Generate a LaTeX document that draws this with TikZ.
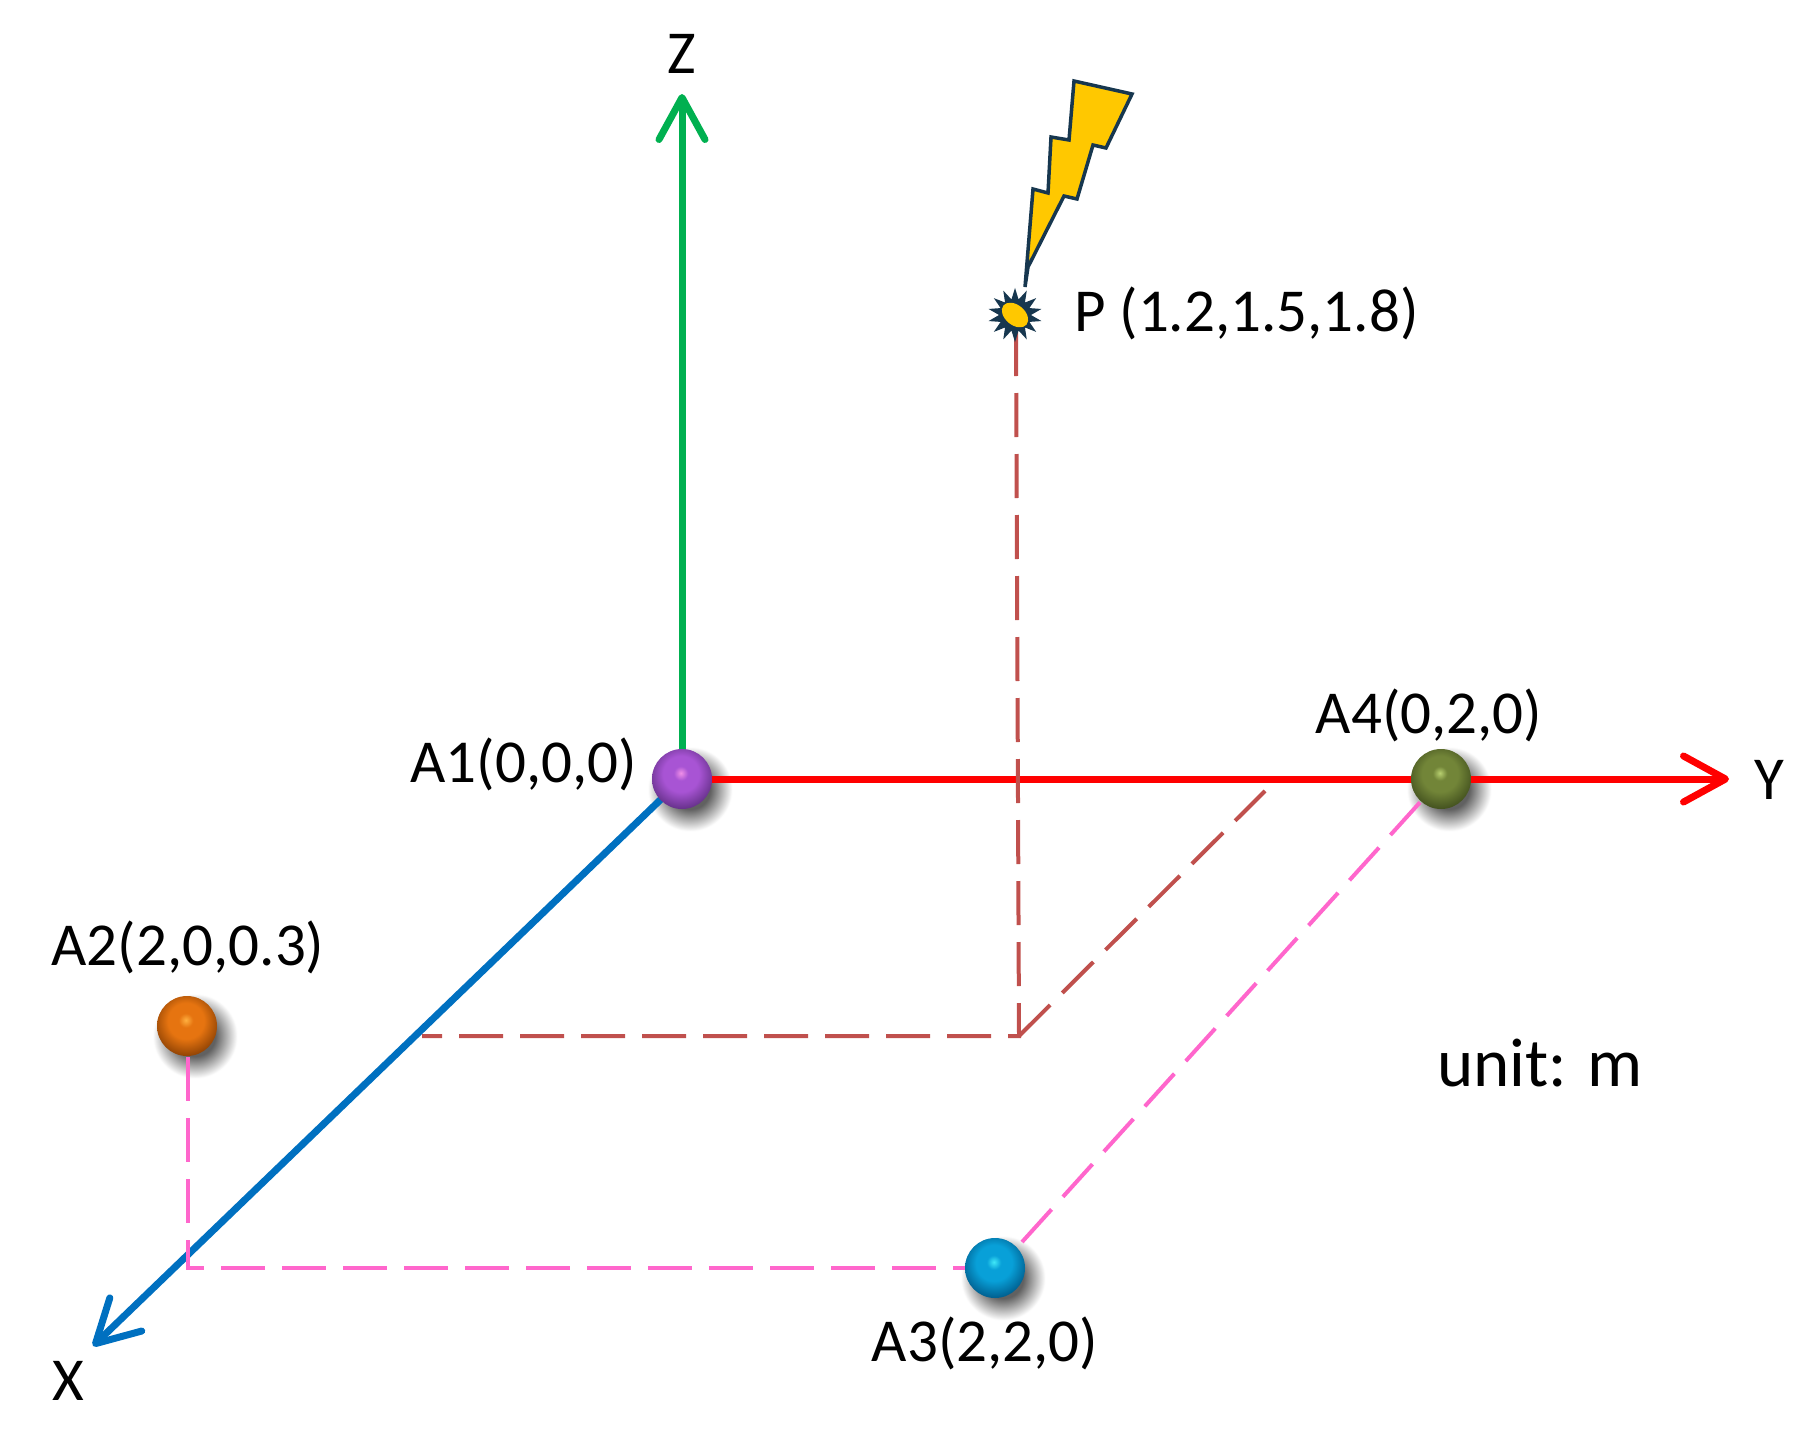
\documentclass[tikz,border=0pt]{standalone}
\usepackage{fontspec}
\setmainfont{Carlito}
\usetikzlibrary{arrows.meta,shapes.geometric}
\pgfdeclarelayer{shadowlayer}
\pgfdeclarelayer{linelayer}
\pgfsetlayers{shadowlayer,linelayer,main}
\newcommand{\mkball}[5]{%
  \definecolor{#1H}{HTML}{#2}\definecolor{#1B}{HTML}{#3}\definecolor{#1D}{HTML}{#4}\definecolor{#1L}{HTML}{#5}%
  \pgfdeclareradialshading{#1Shade}{\pgfpoint{-1bp}{5bp}}{%
    color(0bp)=(#1H); color(6bp)=(#1B); color(15bp)=(#1B); color(29bp)=(#1D); color(31bp)=(#1D); color(34bp)=(#1L); color(100bp)=(#1L)}%
}
\mkball{pur}{F090E8}{A854D4}{643088}{A850C8}
\mkball{org}{FFB040}{E67410}{8E4204}{C06010}
\mkball{blu}{40E8F8}{08A0D8}{005C8C}{0090C8}
\mkball{grn}{B8D070}{728538}{42501E}{667A34}
\definecolor{shadowgrey}{gray}{0.38}
\pgfdeclareradialshading{softshadow}{\pgfpoint{0bp}{0bp}}{color(0bp)=(shadowgrey); color(11bp)=(shadowgrey); color(23bp)=(white); color(100bp)=(white)}
\tikzset{
  x=1pt,y=-1pt,
  lbl/.style={font=\fontsize{61}{70}\selectfont,text=black,inner sep=0pt},
  ball/.style={circle,minimum size=60pt,inner sep=0pt,draw=none},
  axisline/.style={line width=7pt,line cap=round,-{Straight Barb[length=42pt,width=46pt,round,line width=7pt]}},
  browndash/.style={draw=dashbrown,line width=4pt,dash pattern=on 44pt off 17pt},
  pinkdash/.style={draw=dashpink,line width=4pt,dash pattern=on 44pt off 17pt},
}
\definecolor{dashbrown}{HTML}{C0504D}
\definecolor{dashpink}{HTML}{FF66CC}
\definecolor{axgreen}{HTML}{00B050}
\definecolor{axblue}{HTML}{0070C0}
\definecolor{boltline}{HTML}{17374F}
\definecolor{boltfill}{HTML}{FFC800}
\newcommand{\ballshadow}[1]{\begin{pgfonlayer}{shadowlayer}\shade[shading=softshadow] (#1) ++(8,10) circle[radius=46pt];\end{pgfonlayer}}
\begin{document}
\begin{tikzpicture}
\useasboundingbox (0,0) rectangle (1811,1445);
% balls
\node[ball,shading=purShade] (a1) at (682,779) {};
\node[ball,shading=orgShade] (a2) at (187,1026) {};
\node[ball,shading=bluShade] (a3) at (995,1268) {};
\node[ball,shading=grnShade] (a4) at (1441,779) {};
\ballshadow{a1}\ballshadow{a2}\ballshadow{a3}\ballshadow{a4}
% free ends
\coordinate (zt) at (682,94);
\coordinate (yt) at (1729,779);
\coordinate (xt) at (93,1346);
\coordinate (pb) at (1016,332);
\coordinate (pf) at (1019,1036);
\coordinate (px) at (422,1036);
\coordinate (py) at (1265,791);
\coordinate (xa) at (188,1268);
\coordinate (a2b) at (188,1057);
\coordinate (a3p) at (1022,1242);
\coordinate (a4p) at (1423,799);
% burst
\node[star,star points=14,star point ratio=1.7,minimum size=44pt,inner sep=0pt,draw=boltline,line width=3pt,fill=boltline] (pp) at (1015,315) {};
\fill[boltfill,rotate around={-40:(1015,315)}] (1015,315) ellipse[x radius=15pt,y radius=10pt];
% bolt
\draw[draw=boltline,fill=boltfill,line width=3.5pt,line join=miter]
 (1074,81) -- (1132,94) -- (1106,148) -- (1093,145) -- (1077,199) -- (1064,196) -- (1028,267) -- (1025,287) -- (1033,189) -- (1048,193) -- (1051,137) -- (1069,140) -- cycle;
\begin{pgfonlayer}{linelayer}
\draw[axisline,draw=axgreen] (a1) -- (zt);
\draw[axisline,draw=red] (a1) -- (yt);
\draw[axisline,draw=axblue] (a1) -- (xt);
\draw[browndash] (pb) -- (pf) -- (px);
\draw[browndash] (pf) -- (py);
\draw[pinkdash] (a2b) -- (xa) -- (a3);
\draw[pinkdash] (a3p) -- (a4p);
\end{pgfonlayer}
% labels
\node[lbl] (lz) at (682,54) {Z};
\node[lbl] (ly) at (1769,780) {Y};
\node[lbl] (lx) at (68,1381) {X};
\node[lbl,anchor=west] (lp) at (1074,313) {P (1.2,1.5,1.8)};
\node[lbl,anchor=east] (l1) at (637,764) {A1(0,0,0)};
\node[lbl] (l2) at (188,947) {A2(2,0,0.3)};
\node[lbl] (l3) at (985,1343) {A3(2,2,0)};
\node[lbl] (l4) at (1429,715) {A4(0,2,0)};
\node[lbl,font=\fontsize{69}{80}\selectfont] (lu) at (1540,1063) {unit: m};
\end{tikzpicture}
\end{document}
